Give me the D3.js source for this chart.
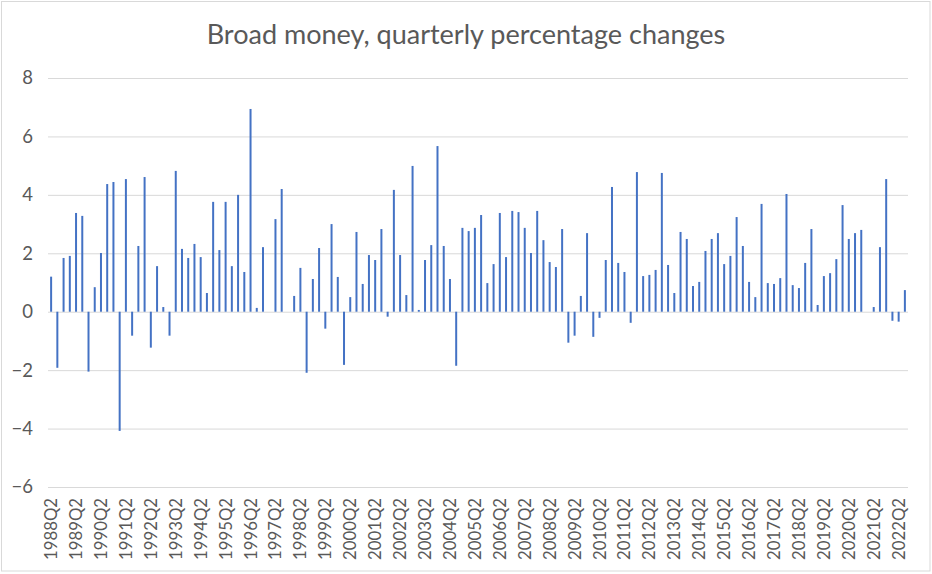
<!DOCTYPE html>
<html>
<head>
<meta charset="utf-8">
<script src="https://cdn.jsdelivr.net/npm/d3@7"></script>
<style>
  html, body { margin: 0; padding: 0; background: #fff; }
  svg { display: block; }
  text { font-family: Lato, "Open Sans", sans-serif; fill: #595959; }
</style>
</head>
<body>
<svg id="chart" width="932" height="574"></svg>
<script>
// ---- data ----
const startYear = 1988;
const startQuarter = 2;
const values = [
  1.20, -1.92, 1.84, 1.91, 3.38, 3.28, -2.05, 0.84, 2.01, 4.37,
  4.44, -4.08, 4.54, -0.82, 2.25, 4.61, -1.23, 1.56, 0.16, -0.82,
  4.82, 2.15, 1.84, 2.32, 1.87, 0.64, 3.76, 2.11, 3.76, 1.56,
  4.00, 1.36, 6.94, 0.13, 2.21, 0.00, 3.17, 4.20, 0.00, 0.54,
  1.50, -2.09, 1.12, 2.18, -0.58, 3.00, 1.19, -1.82, 0.50, 2.73,
  0.95, 1.94, 1.77, 2.83, -0.17, 4.17, 1.94, 0.57, 4.99, 0.06,
  1.77, 2.28, 5.67, 2.25, 1.12, -1.85, 2.87, 2.76, 2.87, 3.31,
  0.98, 1.63, 3.38, 1.87, 3.45, 3.41, 2.87, 2.01, 3.45, 2.45,
  1.70, 1.53, 2.83, -1.06, -0.82, 0.54, 2.69, -0.86, -0.21, 1.77,
  4.27, 1.67, 1.36, -0.38, 4.78, 1.22, 1.26, 1.43, 4.75, 1.60,
  0.64, 2.73, 2.49, 0.88, 1.02, 2.08, 2.49, 2.69, 1.63, 1.91,
  3.24, 2.25, 1.02, 0.50, 3.69, 0.98, 0.95, 1.15, 4.03, 0.91,
  0.81, 1.67, 2.83, 0.23, 1.22, 1.32, 1.80, 3.65, 2.49, 2.69,
  2.80, 0.00, 0.16, 2.21, 4.54, -0.31, -0.34, 0.74
];
const categories = values.map((v, i) => {
  const q = startQuarter - 1 + i;
  return (startYear + Math.floor(q / 4)) + "Q" + (q % 4 + 1);
});
const yTicks = [-6, -4, -2, 0, 2, 4, 6, 8];
const title = "Broad money, quarterly percentage changes";

// ---- layout ----
const W = 932, H = 574;
const plot = { left: 48, right: 908, top: 78, bottom: 487 };

const svg = d3.select("#chart");

// chart border
svg.append("rect")
  .attr("x", 1.5).attr("y", 1.5)
  .attr("width", 928.5).attr("height", 569.5)
  .attr("fill", "#fff").attr("stroke", "#D9D9D9").attr("stroke-width", 1);

const x = d3.scaleBand()
  .domain(categories)
  .range([plot.left, plot.right])
  .paddingInner(0.68).paddingOuter(0.34);

const y = d3.scaleLinear()
  .domain([-6, 8])
  .range([plot.bottom, plot.top]);

// gridlines + y labels
const yAxis = d3.axisLeft(y).tickValues(yTicks).tickSize(-(plot.right - plot.left)).tickPadding(15).tickFormat(d3.format("d"));
const gy = svg.append("g")
  .attr("transform", `translate(${plot.left},0)`)
  .call(yAxis);
gy.select(".domain").remove();
gy.selectAll(".tick line").attr("stroke", "#D9D9D9").attr("stroke-width", 1);
gy.selectAll(".tick text")
  .attr("font-size", 18.5)
  .attr("fill", "#595959")
  .style("font-family", "Lato, 'Open Sans', sans-serif");

// bars
svg.append("g")
  .selectAll("rect")
  .data(values)
  .join("rect")
  .attr("x", (d, i) => x(categories[i]))
  .attr("width", x.bandwidth())
  .attr("y", d => y(Math.max(0, d)))
  .attr("height", d => Math.abs(y(d) - y(0)))
  .attr("fill", "#4472C4");

// x labels
const xTickVals = categories.filter((c, i) => i % 4 === 0);
const xAxis = d3.axisBottom(x).tickValues(xTickVals).tickSize(0).tickPadding(0);
const gx = svg.append("g")
  .attr("transform", `translate(0,${plot.bottom})`)
  .call(xAxis);
gx.select(".domain").remove();
const xt = gx.selectAll(".tick text")
  .attr("transform", "rotate(-90)")
  .attr("x", -11)
  .attr("y", 0)
  .attr("dy", "0.36em")
  .attr("text-anchor", "end")
  .attr("font-size", 17)
  .attr("fill", "#595959")
  .style("font-family", "Lato, 'Open Sans', sans-serif");
// fit label length to ~62px
const lw = xt.node().getComputedTextLength();
if (lw > 0) xt.attr("font-size", 17 * 62 / lw);

// title
const t = svg.append("text")
  .attr("x", 466)
  .attr("y", 44)
  .attr("text-anchor", "middle")
  .attr("font-size", 25)
  .text(title);
const tw = t.node().getComputedTextLength();
if (tw > 0) t.attr("font-size", Math.min(28, 25 * 519 / tw));
</script>
</body>
</html>
